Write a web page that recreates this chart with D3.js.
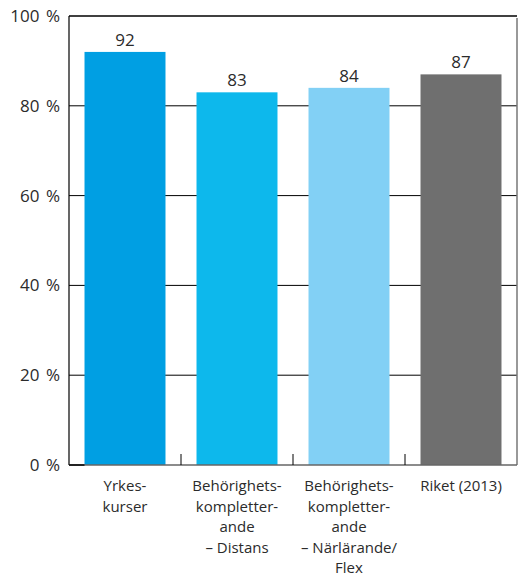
<!DOCTYPE html>
<html>
<head>
<meta charset="utf-8">
<script src="https://cdn.jsdelivr.net/npm/d3@7"></script>
<style>
  body { margin: 0; background: #fff; }
  text { font-family: "Open Sans", "Noto Sans", sans-serif; fill: #2b2b2b; }
</style>
</head>
<body>
<svg id="chart" width="519" height="575"></svg>
<script>
const categories = ["Yrkeskurser", "Behörighetskompletterande – Distans", "Behörighetskompletterande – Närlärande/Flex", "Riket (2013)"];
const categoryLines = [
  ["Yrkes-", "kurser"],
  ["Behörighets-", "kompletter-", "ande", "– Distans"],
  ["Behörighets-", "kompletter-", "ande", "– Närlärande/", "Flex"],
  ["Riket (2013)"]
];
const values = [92, 83, 84, 87];
const colors = ["#009FE3", "#0DB8EC", "#82D0F5", "#6F6F6F"];
const yTicks = [0, 20, 40, 60, 80, 100];
const yTickLabels = ["0 %", "20 %", "40 %", "60 %", "80 %", "100 %"];

const svg = d3.select("#chart");
const mLeft = 69, mRight = 517, mTop = 16, mBottom = 465;

const x = d3.scaleBand().domain(categories).range([mLeft, mRight]).paddingInner(0.277).paddingOuter(0.1385);
const y = d3.scaleLinear().domain([0, 100]).range([mBottom, mTop]);

// gridlines
svg.append("g").selectAll("line").data(yTicks.filter(t => t > 0 && t < 100)).join("line")
  .attr("x1", mLeft).attr("x2", mRight)
  .attr("y1", d => y(d)).attr("y2", d => y(d))
  .attr("stroke", "#000").attr("stroke-width", 1);

// top border
svg.append("line").attr("x1", mLeft).attr("x2", mRight).attr("y1", y(100)).attr("y2", y(100))
  .attr("stroke", "#000").attr("stroke-width", 1.5);
// right border
svg.append("line").attr("x1", mRight).attr("x2", mRight).attr("y1", y(100) + 2).attr("y2", mBottom)
  .attr("stroke", "#777").attr("stroke-width", 1.5);
// left axis
svg.append("line").attr("x1", mLeft).attr("x2", mLeft).attr("y1", y(100)).attr("y2", mBottom)
  .attr("stroke", "#000").attr("stroke-width", 1.2);

// bars
svg.append("g").selectAll("rect").data(values).join("rect")
  .attr("x", (d, i) => x(categories[i]))
  .attr("width", x.bandwidth())
  .attr("y", d => y(d))
  .attr("height", d => y(0) - y(d))
  .attr("fill", (d, i) => colors[i]);

// baseline
svg.append("line").attr("x1", mLeft).attr("x2", mRight).attr("y1", mBottom).attr("y2", mBottom)
  .attr("stroke", "#666").attr("stroke-width", 1.5);
svg.append("line").attr("x1", mLeft).attr("x2", x(categories[0])).attr("y1", mBottom).attr("y2", mBottom)
  .attr("stroke", "#000").attr("stroke-width", 1.5);

// inner ticks between bands
const step = x.step();
svg.append("g").selectAll("line").data(categories.slice(1)).join("line")
  .attr("x1", d => x(d) - x.paddingInner() * step / 2)
  .attr("x2", d => x(d) - x.paddingInner() * step / 2)
  .attr("y1", mBottom).attr("y2", mBottom - 11)
  .attr("stroke", "#000").attr("stroke-width", 1);

// y labels
svg.append("g").selectAll("text").data(yTicks).join("text")
  .attr("x", 60).attr("y", d => y(d))
  .attr("dy", "0.35em")
  .attr("text-anchor", "end")
  .attr("font-size", 17)
  .attr("word-spacing", 2)
  .text((d, i) => yTickLabels[i]);

// value labels
svg.append("g").selectAll("text").data(values).join("text")
  .attr("x", (d, i) => x(categories[i]) + x.bandwidth() / 2)
  .attr("y", d => y(d) - 6)
  .attr("text-anchor", "middle")
  .attr("font-size", 17)
  .text(d => d);

// category labels
const lab = svg.append("g").selectAll("text").data(categories).join("text")
  .attr("x", d => x(d) + x.bandwidth() / 2)
  .attr("y", 491)
  .attr("text-anchor", "middle")
  .attr("font-size", 15);
lab.each(function(d, i) {
  const t = d3.select(this);
  categoryLines[i].forEach((line, j) => {
    t.append("tspan").attr("x", x(d) + x.bandwidth() / 2).attr("y", 491 + j * 20.5).text(line);
  });
});
</script>
</body>
</html>
